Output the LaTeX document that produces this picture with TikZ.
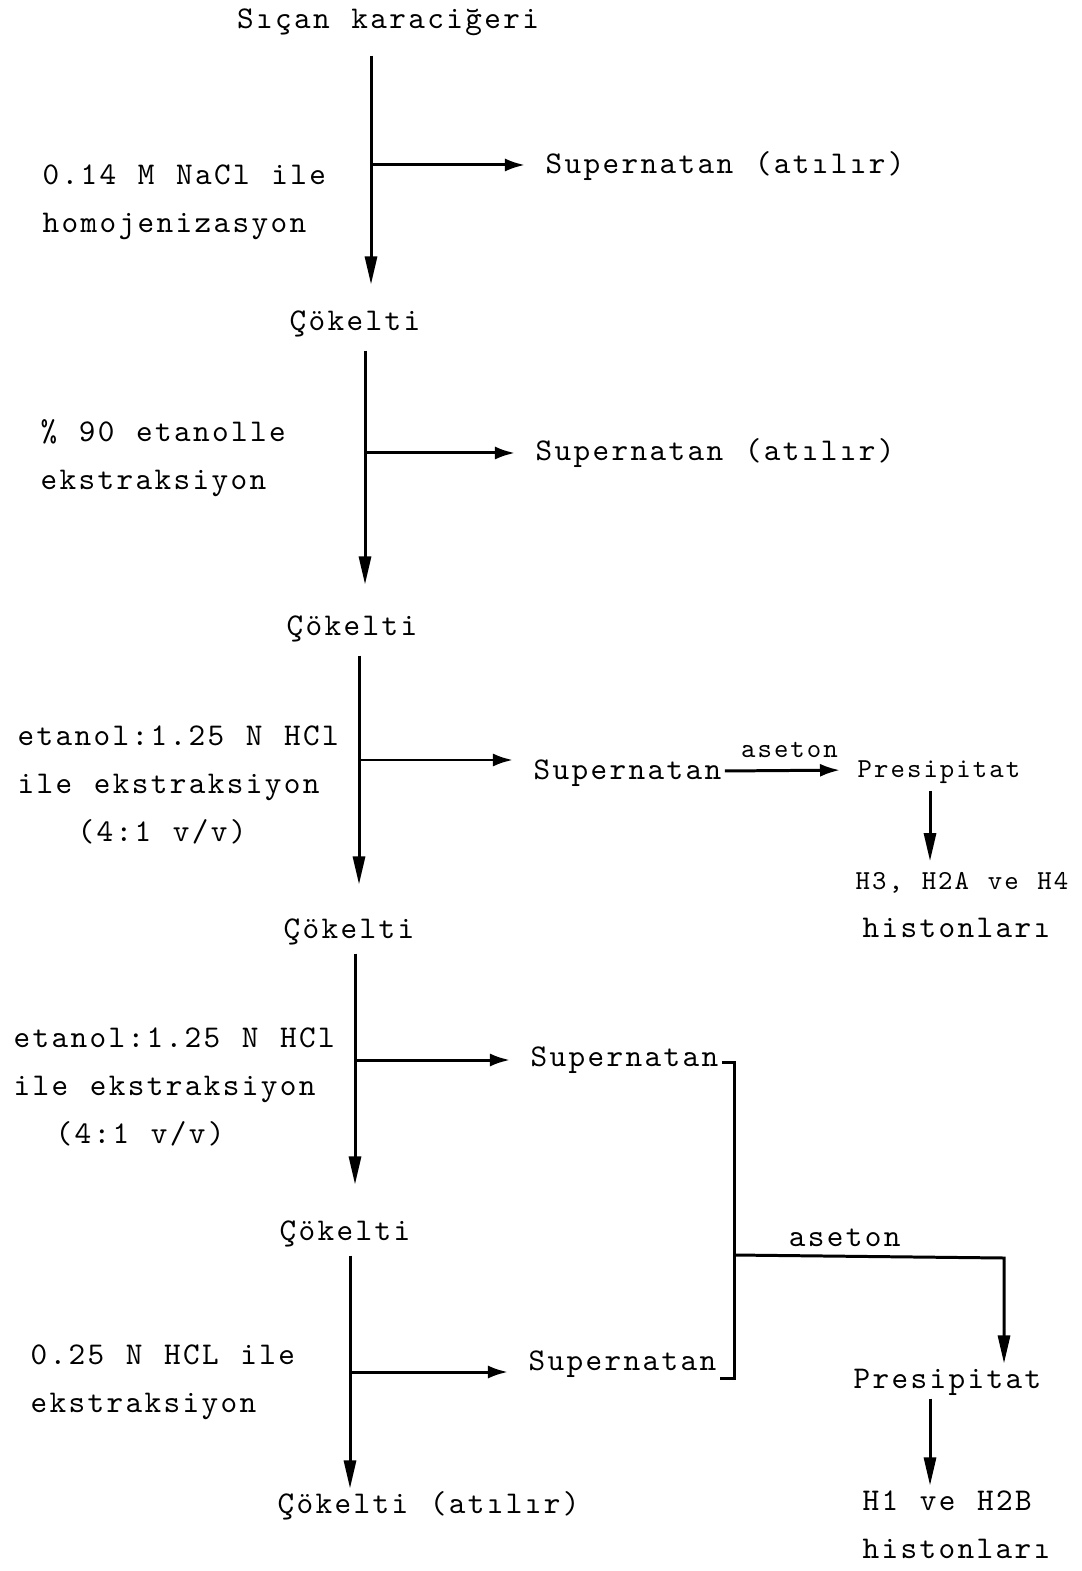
\documentclass[tikz,border=0pt]{standalone}
\usepackage{fontspec}
\usepackage{tikz}
\usetikzlibrary{arrows.meta}
\newfontfamily\typew{lmmono10-regular}[Extension=.otf, LetterSpace=7.5, WordSpace=1.14]

\tikzset{
	base/.style={font=\typew\fontsize{9}{13.7}\selectfont, inner sep=0pt},
	stage/.style={base, text height=7pt, text depth=2pt},
	side/.style={base, anchor=west, align=left},
	smalltxt/.style={font=\typew\fontsize{7.8}{11}\selectfont, inner sep=0pt, text height=6pt, text depth=1.5pt},
	line/.style={line width=0.85pt},
	mainarr/.style={line, -{Triangle[length=2.8mm,width=1.2mm]}},
	sidearr/.style={line, -{Latex[length=2mm,width=1.3mm]}}
}

\begin{document}
\begin{tikzpicture}[x=0.01cm, y=-0.01cm]
	\useasboundingbox (0,0) rectangle (1081,1571);

	% main chain
	\node[stage] (s0) at (388,20) {Sıçan karaciğeri};
	\node[stage] (c1) at (355,322) {Çökelti};
	\node[stage] (c2) at (352,627) {Çökelti};
	\node[stage] (c3) at (349,930) {Çökelti};
	\node[stage] (c4) at (345,1232) {Çökelti};
	\node[stage, anchor=west] (c5) at (277,1505) {Çökelti (atılır)};

	% steps
	\node[side] (l1) at (42,202) {0.14 M NaCl ile\\homojenizasyon};
	\node[side] (l2) at (40,458) {\% 90 etanolle\\ekstraksiyon};
	\node[side] (l3) at (17,785) {etanol:1.25 N HCl\\ile ekstraksiyon\\\hspace*{6mm}(4:1 v/v)};
	\node[side] (l4) at (13,1087) {etanol:1.25 N HCl\\ile ekstraksiyon\\\hspace*{4.2mm}(4:1 v/v)};
	\node[side] (l5) at (30,1382) {0.25 N HCL ile\\ekstraksiyon};

	% supernatants
	\node[stage, anchor=west] (sup1) at (545,165) {Supernatan (atılır)};
	\node[stage, anchor=west] (sup2) at (535,452) {Supernatan (atılır)};
	\node[stage, anchor=west] (sup3) at (533,771) {Supernatan};
	\node[stage, anchor=west] (sup4) at (530,1058) {Supernatan};
	\node[stage, anchor=west] (sup5) at (528,1362) {Supernatan};

	% precipitates
	\node[smalltxt, anchor=west] (pre1) at (857,770) {Presipitat};
	\node[smalltxt, anchor=west] (h3) at (855,882) {H3, H2A ve H4};
	\node[stage, anchor=west] (hist1) at (862,929) {histonları};
	\node[stage, anchor=west] (pre2) at (853,1380) {Presipitat};
	\node[stage, anchor=west] (h1) at (862,1502) {H1 ve H2B};
	\node[stage, anchor=west] (hist2) at (862,1550) {histonları};

	% branch points
	\coordinate (b1) at (371,165);
	\coordinate (b2) at (365,453);
	\coordinate (b3) at (359,760);
	\coordinate (b4) at (355,1060);
	\coordinate (b5) at (350,1372);
	\coordinate (v6) at (930,0);
	\coordinate (brt) at (734,1062);
	\coordinate (brb) at (734,1378);
	\coordinate (j) at (734,1255);
	\coordinate (k) at (1004,1258);

	\foreach \a/\b/\p/\s/\t in {s0/c1/b1/1.9/2.1, c1/c2/b2/1.2/2.6, c2/c3/b3/1.2/2.9, c3/c4/b4/0.7/3.1, c4/c5/b5/0.7/0} {
		\draw[mainarr, shorten <=\s mm, shorten >=\t mm] (\a.south -| \p) -- (\b.north -| \p);
	}

	\foreach \p/\q in {b1/sup1, b2/sup2, b3/sup3, b4/sup4, b5/sup5} {
		\draw[sidearr, shorten >=2mm] (\p) -- (\p -| \q.west);
	}

	% first acetone step
	\draw[sidearr, shorten <=0.3mm, shorten >=1.7mm] (sup3.east) -- node[smalltxt, above=0.6mm] {aseton} (pre1.west);
	\draw[mainarr, shorten <=0.7mm, shorten >=0.7mm] (pre1.south -| v6) -- (h3.north -| v6);

	% pooled supernatants
	\draw[line] ([xshift=0.3mm]sup4.east |- brt) -- (brt) -- (brb) -- ([xshift=0.3mm]sup5.east |- brb);
	\draw[mainarr] (j) -- node[base, above=0.8mm, pos=0.41] {aseton} (k) -- (k |- pre2.north);
	\draw[mainarr, shorten <=0.2mm] (pre2.south -| v6) -- (h1.north -| v6);
\end{tikzpicture}
\end{document}
